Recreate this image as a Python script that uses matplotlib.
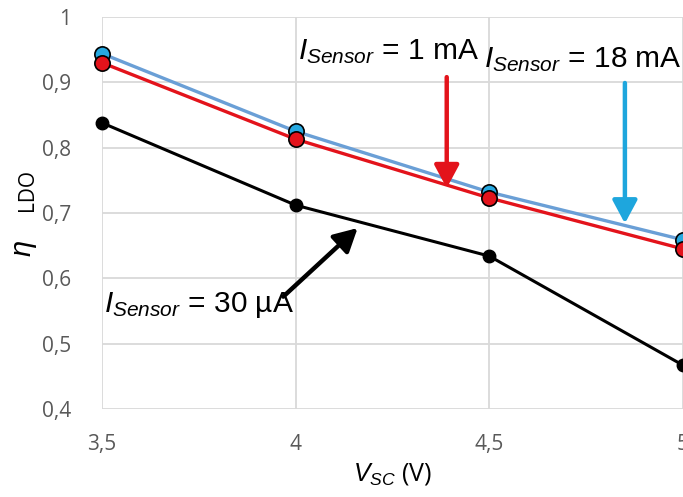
import numpy as np
import matplotlib
matplotlib.use("Agg")
import matplotlib.pyplot as plt

# values
vsc = [3.5, 4.0, 4.5, 5.0]
eta_18mA = [0.944, 0.825, 0.732, 0.659]
eta_1mA = [0.930, 0.813, 0.723, 0.645]
eta_30uA = [0.838, 0.712, 0.634, 0.467]
xticks = [3.5, 4.0, 4.5, 5.0]
xticklabels = ["3,5", "4", "4,5", "5"]
yticks = [0.4, 0.5, 0.6, 0.7, 0.8, 0.9, 1.0]
yticklabels = ["0,4", "0,5", "0,6", "0,7", "0,8", "0,9", "1"]

plt.rcParams["mathtext.fontset"] = "custom"
plt.rcParams["mathtext.rm"] = "Liberation Sans"
plt.rcParams["mathtext.it"] = "Liberation Sans:italic"

fig = plt.figure(figsize=(6.83, 4.97), dpi=100)
ax = fig.add_axes([102 / 683, 88 / 497, 581 / 683, 392 / 497])

ax.plot(vsc, eta_18mA, color="#6a9fd6", lw=2.4, marker="o", ms=11,
        mfc="#27a9e1", mec="black", mew=1.2, zorder=3, clip_on=False)
ax.plot(vsc, eta_1mA, color="#e3131b", lw=2.4, marker="o", ms=11,
        mfc="#e3131b", mec="black", mew=1.2, zorder=4, clip_on=False)
ax.plot(vsc, eta_30uA, color="black", lw=2.2, marker="o", ms=9,
        mfc="black", mec="black", zorder=3, clip_on=False)

ax.set_xlim(3.5, 5.0)
ax.set_ylim(0.4, 1.0)
ax.set_xticks(xticks)
ax.set_xticklabels(xticklabels)
ax.set_yticks(yticks)
ax.set_yticklabels(yticklabels)
ax.grid(True, color="#d9d9d9", lw=1.3)
ax.set_axisbelow(True)
for s in ax.spines.values():
    s.set_visible(False)
ax.tick_params(length=0, labelsize=15, labelcolor="#595959")
for lab in ax.get_xticklabels() + ax.get_yticklabels():
    lab.set_fontfamily("Open Sans")
ax.tick_params(axis="y", pad=22)
ax.tick_params(axis="x", pad=18)

ax.set_xlabel(r"$V_{SC}$ (V)", fontsize=18, color="black", labelpad=4,
              fontfamily="Open Sans")
# y label: large italic eta followed by LDO
fig.text(0.036, 0.50, r"$\eta$", rotation=90, fontsize=21,
         ha="center", va="center", fontfamily="DejaVu Serif")
fig.text(0.040, 0.617, "LDO", rotation=90, fontsize=15,
         ha="center", va="center", fontfamily="Open Sans")

lab_kw = dict(fontsize=21.5, fontfamily="Liberation Sans", color="black",
              va="baseline", ha="left")
ax.text(4.005, 0.935, r"$I_{Sensor}$ = 1 mA", **lab_kw)
ax.text(4.485, 0.923, r"$I_{Sensor}$ = 18 mA", **lab_kw)
ax.text(3.505, 0.548, r"$I_{Sensor}$ = 30 µA", **lab_kw)

arr = dict(arrowstyle="-|>,head_length=1.4,head_width=0.75", lw=3.2,
           shrinkA=0, shrinkB=0)
ax.annotate("", xy=(4.39, 0.738), xytext=(4.39, 0.908),
            arrowprops=dict(color="#e3131b", **arr))
ax.annotate("", xy=(4.85, 0.684), xytext=(4.85, 0.899),
            arrowprops=dict(color="#1ea6dd", **arr))
ax.annotate("", xy=(4.16, 0.677), xytext=(3.968, 0.572),
            arrowprops=dict(color="black", **arr))

fig.savefig("out.png", dpi=100)
